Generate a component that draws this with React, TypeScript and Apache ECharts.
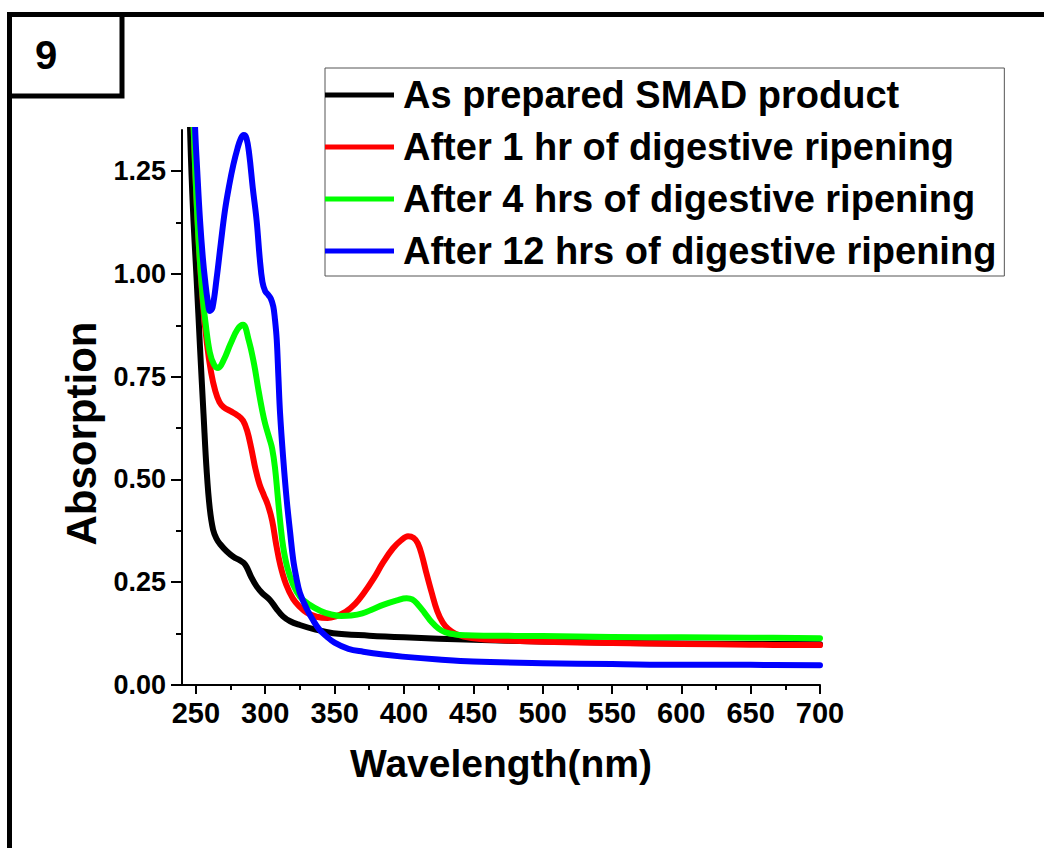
import { useEffect, useRef } from "react";
import * as echarts from "echarts";

// UV-vis absorption spectra (wavelength in nm, absorption in a.u.)
const blackX = [242, 244, 246, 248, 250.5, 253, 255.5, 257.8, 260, 262.4, 265, 267.4, 272, 277, 281.8, 284.5, 286.6, 290, 293.8, 298, 303.4, 308, 312.8, 318, 325, 335, 349, 375, 400, 450, 500, 550, 600, 650, 700];
const blackY = [2.1, 1.62, 1.33, 1.15, 0.99, 0.82, 0.66, 0.52, 0.43, 0.378, 0.355, 0.343, 0.326, 0.312, 0.303, 0.297, 0.287, 0.262, 0.24, 0.223, 0.207, 0.186, 0.167, 0.155, 0.146, 0.136, 0.126, 0.12, 0.116, 0.11, 0.106, 0.103, 0.101, 0.1, 0.099];

const redX = [246, 249, 252, 255, 258, 261, 264, 267, 270, 275, 280, 284, 287, 290, 293, 296, 299, 302, 305, 308, 311, 315, 320, 325, 330, 337, 345, 350, 358, 365, 371, 378, 385, 392, 398, 403, 407, 410, 413, 416, 420, 424, 428, 432, 437, 443, 455, 475, 500, 550, 600, 650, 700];
const redY = [1.6, 1.3, 1.08, 0.93, 0.83, 0.76, 0.715, 0.688, 0.676, 0.666, 0.656, 0.643, 0.618, 0.575, 0.525, 0.487, 0.462, 0.437, 0.4, 0.34, 0.29, 0.245, 0.21, 0.19, 0.176, 0.166, 0.163, 0.166, 0.178, 0.198, 0.223, 0.258, 0.298, 0.332, 0.352, 0.362, 0.358, 0.345, 0.315, 0.275, 0.225, 0.18, 0.152, 0.136, 0.125, 0.118, 0.112, 0.108, 0.105, 0.102, 0.1, 0.098, 0.097];

const greenX = [246, 249, 252, 255, 257, 260, 263, 266, 270, 275, 280, 284, 288, 292, 295, 298, 300, 303, 305, 307, 309, 311, 313, 316, 320, 325, 332, 340, 347, 355, 362, 370, 378, 385, 395, 402, 406, 410, 415, 420, 425, 430, 437, 445, 460, 500, 550, 600, 650, 700];
const greenY = [1.6, 1.3, 1.08, 0.94, 0.88, 0.81, 0.78, 0.771, 0.79, 0.83, 0.865, 0.876, 0.84, 0.78, 0.72, 0.665, 0.635, 0.6, 0.575, 0.53, 0.46, 0.39, 0.335, 0.285, 0.245, 0.215, 0.195, 0.18, 0.172, 0.168, 0.169, 0.174, 0.185, 0.195, 0.206, 0.211, 0.208, 0.196, 0.175, 0.153, 0.137, 0.128, 0.123, 0.121, 0.12, 0.119, 0.117, 0.116, 0.115, 0.114];

const blueX = [246, 247.5, 249.5, 251, 253, 255, 256.6, 258.5, 260.2, 262, 265, 268, 271, 274, 277, 280, 282.5, 284.5, 286.5, 288.5, 291, 293.8, 296, 298, 300, 302.2, 304, 305.8, 307, 308.3, 309.5, 310.7, 313, 315.5, 318, 320.2, 322.5, 325, 330, 334.4, 339, 344.3, 350, 360, 370.7, 385, 399, 425, 449.8, 500, 550, 600, 650, 700];
const blueY = [1.75, 1.55, 1.35, 1.25, 1.13, 1.04, 0.986, 0.935, 0.91, 0.918, 0.99, 1.075, 1.155, 1.215, 1.265, 1.305, 1.33, 1.338, 1.33, 1.29, 1.21, 1.13, 1.04, 0.98, 0.958, 0.949, 0.94, 0.921, 0.89, 0.84, 0.75, 0.661, 0.55, 0.45, 0.37, 0.304, 0.26, 0.224, 0.185, 0.158, 0.135, 0.118, 0.103, 0.088, 0.081, 0.074, 0.069, 0.062, 0.057, 0.053, 0.051, 0.049, 0.049, 0.048];

const seriesNames = [
  "As prepared SMAD product",
  "After 1 hr of digestive ripening",
  "After 4 hrs of digestive ripening",
  "After 12 hrs of digestive ripening",
];
const seriesColors = ["#000000", "#ff0000", "#00ff00", "#0000ff"];

const xMajorTicks = [250, 300, 350, 400, 450, 500, 550, 600, 650, 700];
const xMinorTicks = [275, 325, 375, 425, 475, 525, 575, 625, 675];
const yMajorTicks = [0, 0.25, 0.5, 0.75, 1.0, 1.25];
const yMinorTicks = [0.125, 0.375, 0.625, 0.875, 1.125];

const panelLabel = "9";
const xTitle = "Wavelength(nm)";
const yTitle = "Absorption";

const SANS = '"Liberation Sans", Arial, Helvetica, sans-serif';

const pairs = (xs: number[], ys: number[]) => xs.map((x, i) => [x, ys[i]]);

export default function App() {
  const ref = useRef<HTMLDivElement>(null);

  useEffect(() => {
    if (!ref.current) return;
    const chart = echarts.init(ref.current, null, { renderer: "svg" });

    const seriesData = [
      pairs(blackX, blackY),
      pairs(redX, redY),
      pairs(greenX, greenY),
      pairs(blueX, blueY),
    ];

    chart.setOption({
      animation: false,
      backgroundColor: "#ffffff",
      grid: {
        left: 182,
        top: 130,
        right: 224,
        bottom: 163,
        containLabel: false,
        outerBoundsMode: "none",
      },
      legend: {
        orient: "vertical",
        left: 325,
        top: 68,
        icon: "rect",
        itemWidth: 69,
        itemHeight: 5,
        itemGap: 12,
        padding: [7, 8, 5, 0],
        borderColor: "#555",
        borderWidth: 1,
        selectedMode: false,
        data: seriesNames,
        textStyle: {
          fontFamily: SANS,
          fontWeight: "bold",
          fontSize: 38,
          lineHeight: 40,
          color: "#000",
          padding: [0, 0, 0, 4],
        },
      },
      xAxis: [
        {
          type: "value",
          min: 240,
          max: 700,
          position: "bottom",
          name: xTitle,
          nameLocation: "middle",
          nameGap: 59,
          nameTextStyle: { fontFamily: SANS, fontWeight: "bold", fontSize: 39, color: "#000" },
          axisLine: { show: true, lineStyle: { color: "#000", width: 2 } },
          axisTick: { show: true, inside: false, length: 9, customValues: xMajorTicks, lineStyle: { color: "#000", width: 2 } },
          axisLabel: {
            customValues: xMajorTicks,
            margin: 13,
            fontFamily: SANS,
            fontWeight: "bold",
            fontSize: 29,
            color: "#000",
          },
          splitLine: { show: false },
        },
        {
          type: "value",
          min: 240,
          max: 700,
          position: "bottom",
          axisLine: { show: false },
          axisTick: { show: true, inside: false, length: 5, customValues: xMinorTicks, lineStyle: { color: "#000", width: 2 } },
          axisLabel: { show: false },
          splitLine: { show: false },
        },
      ],
      yAxis: [
        {
          type: "value",
          min: 0,
          max: 1.35,
          position: "left",
          name: yTitle,
          nameLocation: "middle",
          nameGap: 70,
          nameTextStyle: {
            fontFamily: SANS,
            fontWeight: "bold",
            fontSize: 42,
            color: "#000",
            padding: [0, 52, 0, 0],
          },
          axisLine: { show: true, lineStyle: { color: "#000", width: 2 } },
          axisTick: { show: true, inside: false, length: 11, customValues: yMajorTicks, lineStyle: { color: "#000", width: 2 } },
          axisLabel: {
            customValues: yMajorTicks,
            margin: 16,
            fontFamily: SANS,
            fontWeight: "bold",
            fontSize: 27,
            color: "#000",
            formatter: (v: number) => v.toFixed(2),
          },
          splitLine: { show: false },
        },
        {
          type: "value",
          min: 0,
          max: 1.35,
          position: "left",
          axisLine: { show: false },
          axisTick: { show: true, inside: false, length: 6, customValues: yMinorTicks, lineStyle: { color: "#000", width: 2 } },
          axisLabel: { show: false },
          splitLine: { show: false },
        },
      ],
      series: seriesNames.map((name, i) => ({
        name,
        type: "line",
        xAxisIndex: 0,
        yAxisIndex: 0,
        data: seriesData[i],
        showSymbol: false,
        smooth: 0.4,
        clip: true,
        color: seriesColors[i],
        lineStyle: { color: seriesColors[i], width: 6, join: "round", cap: "round" },
      })),
      graphic: [
        // outer frame (top and left edges)
        { type: "line", shape: { x1: 7, y1: 14.5, x2: 1044, y2: 14.5 }, style: { stroke: "#000", lineWidth: 5 } },
        { type: "line", shape: { x1: 9.5, y1: 12, x2: 9.5, y2: 848 }, style: { stroke: "#000", lineWidth: 5 } },
        // panel label box
        {
          type: "rect",
          shape: { x: 9.5, y: 14.5, width: 112.5, height: 81.5 },
          style: { fill: "none", stroke: "#000", lineWidth: 5 },
        },
        {
          type: "text",
          x: 46,
          y: 55,
          style: {
            text: panelLabel,
            fontFamily: SANS,
            fontWeight: "bold",
            fontSize: 40,
            fill: "#000",
            align: "center",
            verticalAlign: "middle",
          },
        },
      ],
    });

    return () => chart.dispose();
  }, []);

  return (
    <div
      ref={ref}
      style={{ position: "fixed", left: 0, top: 0, width: 1044, height: 848, background: "#fff" }}
    />
  );
}
